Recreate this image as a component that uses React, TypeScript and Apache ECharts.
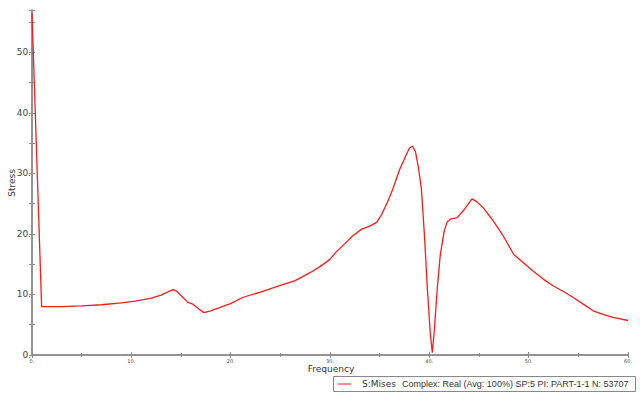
import React, { useEffect, useRef } from "react";
import * as echarts from "echarts";

const freq = [0, 0.97, 1.5, 3, 5, 7, 9, 10.4, 12, 13, 13.8, 14.2, 14.6, 15.2, 15.7, 16.2, 16.8, 17.3, 18.0, 19.0, 20.0, 21.2, 23.0, 25.0, 26.5, 28.0, 29.0, 30.0, 30.6, 31.5, 32.3, 33.2, 34.0, 34.7, 35.2, 35.8, 36.3, 37.0, 37.6, 38.0, 38.3, 38.6, 38.9, 39.2, 39.5, 39.8, 40.1, 40.3, 40.5, 40.8, 41.1, 41.5, 41.8, 42.2, 42.8, 43.5, 44.3, 44.8, 45.5, 46.5, 47.5, 48.5, 49.5, 50.5, 51.5, 52.5, 53.5, 54.5, 55.5, 56.5, 57.5, 58.5, 60];
const stress = [56.5, 8.0, 8.0, 8.0, 8.1, 8.3, 8.6, 8.9, 9.4, 9.9, 10.5, 10.8, 10.5, 9.5, 8.7, 8.4, 7.6, 7.0, 7.3, 7.9, 8.5, 9.5, 10.4, 11.5, 12.3, 13.6, 14.6, 15.8, 17.0, 18.4, 19.7, 20.8, 21.3, 21.9, 23.2, 25.3, 27.3, 30.6, 32.8, 34.2, 34.5, 33.6, 31.0, 27.5, 20.0, 11.0, 3.5, 0.4, 4.0, 11.0, 16.5, 20.5, 22.0, 22.5, 22.7, 24.0, 25.8, 25.3, 24.2, 22.0, 19.5, 16.6, 15.2, 13.8, 12.5, 11.4, 10.5, 9.5, 8.4, 7.3, 6.7, 6.2, 5.7];

const seriesName = "S:Mises";
const legendText = "Complex: Real (Avg: 100%) SP:5 PI: PART-1-1 N: 53707";
const xName = "Frequency";
const yName = "Stress";

export default function App() {
  const ref = useRef<HTMLDivElement>(null);
  useEffect(() => {
    if (!ref.current) return;
    const chart = echarts.init(ref.current, null, { renderer: "svg" });
    const frame = "#8c8c8c";
    const font = "DejaVu Sans";
    const data = freq.map((f, i) => [f, stress[i]]);
    chart.setOption({
      animation: false,
      backgroundColor: "#ffffff",
      grid: { left: 32, right: 12, top: 10, bottom: 41, containLabel: false, outerBoundsMode: "none" },
      xAxis: [
        {
          type: "value", min: 0, max: 60, interval: 10, position: "bottom",
          axisLine: { show: true, lineStyle: { color: frame, width: 1.5 } },
          axisTick: { show: true, inside: true, length: 3, lineStyle: { color: frame } },
          minorTick: { show: true, splitNumber: 2, length: 2, lineStyle: { color: frame } },
          axisLabel: { fontSize: 5, color: "#444", margin: 3, fontFamily: font, formatter: (v: number) => v + "." },
          splitLine: { show: false },
        },
        {
          type: "value", min: 0, max: 60, interval: 10, position: "top",
          axisLine: { show: true, lineStyle: { color: frame, width: 1.5 } },
          axisTick: { show: true, inside: true, length: 3, lineStyle: { color: frame } },
          minorTick: { show: true, splitNumber: 2, length: 2, lineStyle: { color: frame } },
          axisLabel: { show: false },
          splitLine: { show: false },
        },
      ],
      yAxis: [
        {
          type: "value", min: 0, max: 57, interval: 5, position: "left",
          axisLine: { show: true, lineStyle: { color: frame, width: 1.5 } },
          axisTick: { show: true, inside: true, length: 3, lineStyle: { color: frame } },
          axisLabel: {
            fontSize: 9, color: "#444", margin: 1, fontFamily: font,
            formatter: (v: number) => (v % 10 === 0 ? v + "." : ""),
          },
          splitLine: { show: false },
        },
        {
          type: "value", min: 0, max: 57, interval: 5, position: "right",
          axisLine: { show: true, lineStyle: { color: frame, width: 1.5 } },
          axisTick: { show: true, inside: true, length: 3, lineStyle: { color: frame } },
          axisLabel: { show: false },
          splitLine: { show: false },
        },
      ],
      series: [
        {
          name: seriesName,
          type: "line",
          xAxisIndex: 0,
          yAxisIndex: 0,
          data,
          showSymbol: false,
          smooth: false,
          lineStyle: { color: "#ff1a1a", width: 1.3 },
        },
      ],
      graphic: [
        { type: "text", x: 12, y: 183, rotation: Math.PI / 2, style: { text: yName, fontSize: 9, fontFamily: font, fill: "#333", align: "center", verticalAlign: "middle" } },
        { type: "text", x: 331, y: 369, style: { text: xName, fontSize: 9, fontFamily: font, fill: "#333", align: "center", verticalAlign: "middle" } },
        { type: "rect", shape: { x: 333.5, y: 376.5, width: 302, height: 15 }, style: { fill: "#ffffff", stroke: "#888", lineWidth: 1 } },
        { type: "line", shape: { x1: 338, y1: 384, x2: 351, y2: 384 }, style: { stroke: "#ff1a1a", lineWidth: 1 } },
        { type: "text", x: 362, y: 384, style: { text: seriesName, fontSize: 9, fontFamily: font, fill: "#333", verticalAlign: "middle" } },
        { type: "text", x: 402, y: 384, style: { text: legendText, fontSize: 9, fontFamily: "Liberation Sans", fill: "#333", verticalAlign: "middle" } },
      ],
    });
    return () => chart.dispose();
  }, []);
  return <div ref={ref} style={{ width: 640, height: 396, position: "absolute", left: 0, top: 0 }} />;
}
